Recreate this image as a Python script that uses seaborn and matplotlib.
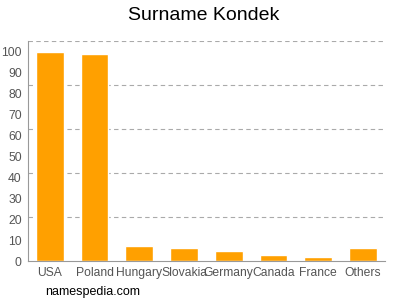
import matplotlib
matplotlib.use("Agg")
import matplotlib.pyplot as plt
import seaborn as sns
import pandas as pd
import numpy as np

countries = ["USA", "Poland", "Hungary", "Slovakia", "Germany", "Canada", "France", "Others"]
values = [100, 99, 7, 6, 5, 3, 2, 6]
yticks = list(range(0, 101, 10))

sns.set_style("white")
plt.rcParams['font.family'] = ['Liberation Sans', 'DejaVu Sans']

df = pd.DataFrame({"country": countries, "value": values})

fig = plt.figure(figsize=(4, 3), dpi=100)
ax = fig.add_axes([0.07, 0.13, 0.893, 0.733])

ymax = 105
for k in range(1, 6):
    ax.axhline(ymax * k / 5, color="#aaaaaa", linestyle=(0, (4, 3)), linewidth=0.8, zorder=0)

sns.barplot(data=df, x="country", y="value", color="#FFA000", width=0.62, ax=ax,
            saturation=1, zorder=2)

ax.set_xlim(-0.49, 7.5)
ax.set_ylim(0, ymax)
ax.set_yticks(yticks)
ax.set_xlabel("")
ax.set_ylabel("")
for s in ["top", "right"]:
    ax.spines[s].set_visible(False)
for s in ["left", "bottom"]:
    ax.spines[s].set_color("#999999")
    ax.spines[s].set_linewidth(0.8)
ax.tick_params(axis="both", colors="#999999", labelcolor="#555555", labelsize=8.7,
               length=3, width=0.8, pad=1.5)
ax.tick_params(axis="x", length=3)

fig.text(0.51, 0.95, "Surname Kondek", ha="center", va="center", fontsize=14, color="#000000")
fig.text(0.113, 0.027, "namespedia.com", ha="left", va="center", fontsize=9, color="#000000")

fig.savefig("out.png", dpi=100)
